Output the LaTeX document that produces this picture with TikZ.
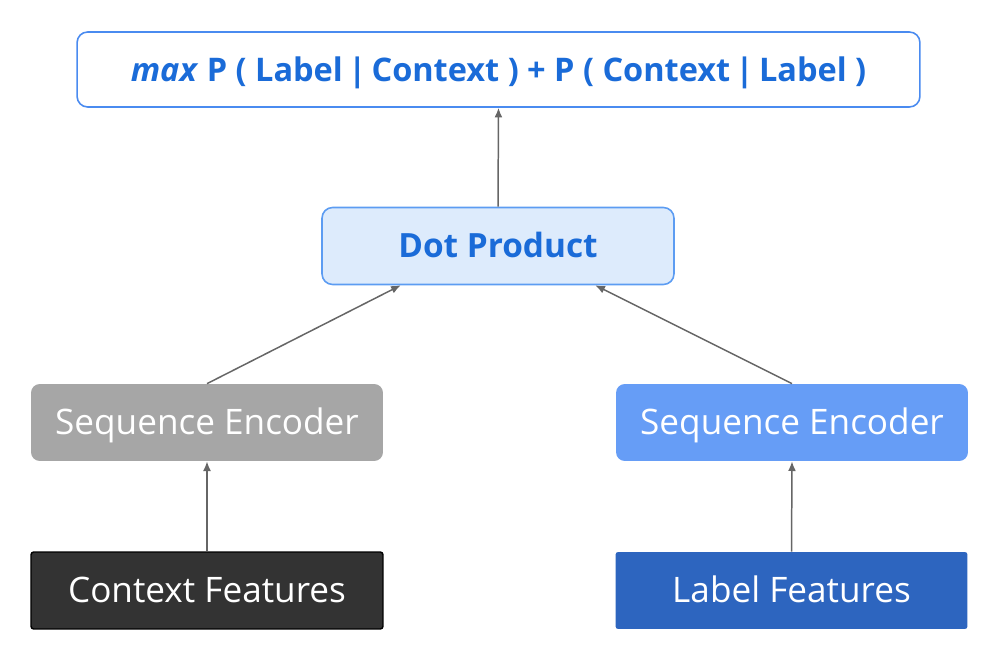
\documentclass[tikz,border=0pt]{standalone}
\usepackage{fontspec}
\setmainfont{Open Sans}
\usetikzlibrary{arrows.meta}

\definecolor{objblue}{HTML}{1A6BD8}
\definecolor{objline}{HTML}{4A8BF0}
\definecolor{dotfill}{HTML}{DDEBFC}
\definecolor{dotline}{HTML}{5C9CF2}
\definecolor{encgray}{HTML}{A6A6A6}
\definecolor{encblue}{HTML}{669DF6}
\definecolor{ctxfill}{HTML}{333333}
\definecolor{lblfill}{HTML}{2D65BF}
\definecolor{arrowgray}{HTML}{666666}

\begin{document}
\begin{tikzpicture}[x=0.02cm,y=-0.02cm,
    >={Latex[length=5.5pt,width=4.5pt]},
    box/.style = {
      rectangle,
      inner sep = 0pt,
      minimum width = 7.04cm,
      minimum height = 1.54cm,
      text height = 14pt,
      text depth = 0pt,
      font = \fontsize{20}{24}\selectfont
    },
    encoder/.style = {
      box,
      rounded corners = 5pt,
      text = white
    },
    feature/.style = {
      box,
      rounded corners = 1.5pt,
      text = white
    },
    link/.style = {
      ->,
      draw = arrowgray,
      line width = 0.85pt
    }
  ]
  \useasboundingbox (0,0) rectangle (1000,661);

  \node[box, draw=objline, line width=0.9pt, fill=white, rounded corners=6pt,
        minimum width=16.86cm, minimum height=1.5cm, text=objblue,
        text height=13.4pt, font=\fontsize{18.5}{22}\selectfont\bfseries]
    (objective) at (498.5,69.5)
    {\textit{max} P ( Label\,|\,Context ) + P ( Context\,|\,Label )};

  \node[box, draw=dotline, line width=0.9pt, fill=dotfill, rounded corners=6pt,
        text=objblue, text height=13.6pt, font=\fontsize{19}{24}\selectfont\bfseries]
    (dot) at (498,246) {Dot Product};

  \node[encoder, fill=encgray] (ctxenc) at (207,422.5) {Sequence Encoder};
  \node[encoder, fill=encblue] (lblenc) at (792,422.5) {Sequence Encoder};

  \node[feature, draw=black, line width=0.8pt, fill=ctxfill] (ctxfeat) at (207,590.5) {Context Features};
  \node[feature, fill=lblfill] (lblfeat) at (791.5,590.5) {Label Features};

  \draw[link] (dot.north) -- (objective.south);
  \draw[link] (ctxenc.north) -- (dot.202);
  \draw[link] (lblenc.north) -- (dot.338);
  \draw[link] (ctxfeat.north) -- (ctxenc.south);
  \draw[link] (lblfeat.north) -- (lblenc.south);
\end{tikzpicture}
\end{document}
